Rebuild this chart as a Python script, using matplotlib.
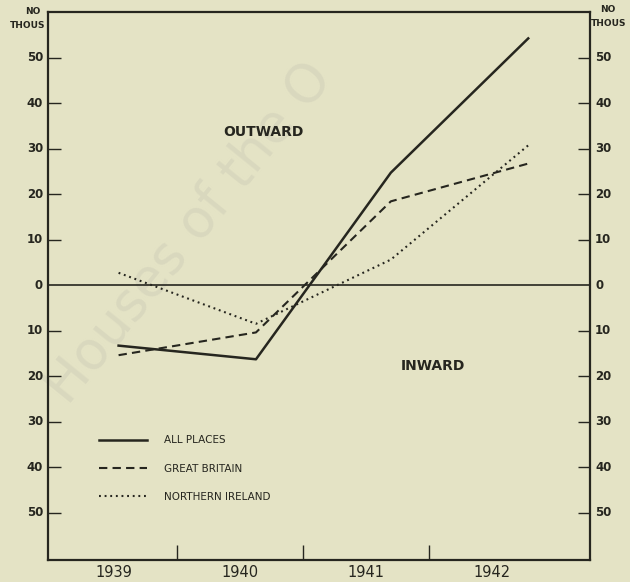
import numpy as np
import matplotlib.pyplot as plt

# Emigration balance, thousands (positive = outward, negative = inward)
years = ["1939", "1940", "1941", "1942"]
x_pos = [0.04, 1.13, 2.20, 3.29]          # where the points sit along the year axis
all_places = [-13.3, -16.3, 24.7, 54.2]
great_britain = [-15.4, -10.4, 18.4, 26.7]
northern_ireland = [2.7, -8.5, 5.6, 30.7]
y_ticks = [-50, -40, -30, -20, -10, 0, 10, 20, 30, 40, 50]

paper = "#e4e3c5"
ink = "#26261f"

fig = plt.figure(figsize=(6.3, 5.82), dpi=100, facecolor=paper)
ax = fig.add_axes([48/630, 1 - 560/582, 542/630, 548/582])
ax.patch.set_alpha(0)   # let the watermark show through, behind everything

# faint watermark
fig.text(0.30, 0.60, "Houses of the O", fontsize=38, color="#d9d8be",
         rotation=51, ha="center", va="center", zorder=-1)

ax.plot(x_pos, all_places, color=ink, lw=1.8, label="ALL PLACES")
ax.plot(x_pos, great_britain, color=ink, lw=1.5, dashes=(4, 2.5), label="GREAT BRITAIN")
ax.plot(x_pos, northern_ireland, color=ink, lw=1.5, dashes=(0.9, 1.8), label="NORTHERN IRELAND")
ax.axhline(0, color=ink, lw=1.2)

ax.set_xlim(-0.52, 3.78)
ax.set_ylim(-60.4, 60)

for s in ax.spines.values():
    s.set_color(ink)
    s.set_linewidth(1.6)

# year boundaries as inward ticks, labels centred in each year
ax.set_xticks([0.5, 1.5, 2.5])
ax.set_xticklabels([])
ax.tick_params(axis="x", direction="in", length=11, width=1.0, color=ink)
for i, yr in enumerate(years):
    ax.text(i, -61.5, yr, ha="center", va="top", fontsize=10.5, color=ink)

ticks_nz = [t for t in y_ticks if t != 0]
ax.set_yticks(ticks_nz)
ax.set_yticklabels([])
ax.tick_params(axis="y", direction="in", length=9, width=1.0, color=ink,
               left=True, right=True)
for t in y_ticks:
    ax.text(-0.56, t, str(abs(t)), ha="right", va="center", fontsize=8.5,
            fontweight="bold", color=ink)
    ax.text(3.82, t, str(abs(t)), ha="left", va="center", fontsize=8.5,
            fontweight="bold", color=ink)

fig.text(40/630, 1 - 12/582, "NO", ha="right", va="center", fontsize=6.5,
         fontweight="bold", color=ink)
fig.text(45/630, 1 - 25/582, "THOUS", ha="right", va="center", fontsize=6.5,
         fontweight="bold", color=ink)
fig.text(600/630, 1 - 10/582, "NO", ha="left", va="center", fontsize=6.5,
         fontweight="bold", color=ink)
fig.text(591/630, 1 - 23/582, "THOUS", ha="left", va="center", fontsize=6.5,
         fontweight="bold", color=ink)

ax.text(263/630, 1 - 132/582, "OUTWARD", transform=fig.transFigure, ha="center",
        va="center", fontsize=10, fontweight="bold", color=ink)
ax.text(433/630, 1 - 366/582, "INWARD", transform=fig.transFigure, ha="center",
        va="center", fontsize=10, fontweight="bold", color=ink)

leg = ax.legend(loc="upper left", bbox_to_anchor=((90 - 48)/542, (560 - 426)/548),
                frameon=False, fontsize=7.5, handlelength=4.6, handletextpad=1.6,
                labelspacing=1.75, labelcolor=ink)

fig.savefig("out.png", dpi=100, facecolor=paper)
